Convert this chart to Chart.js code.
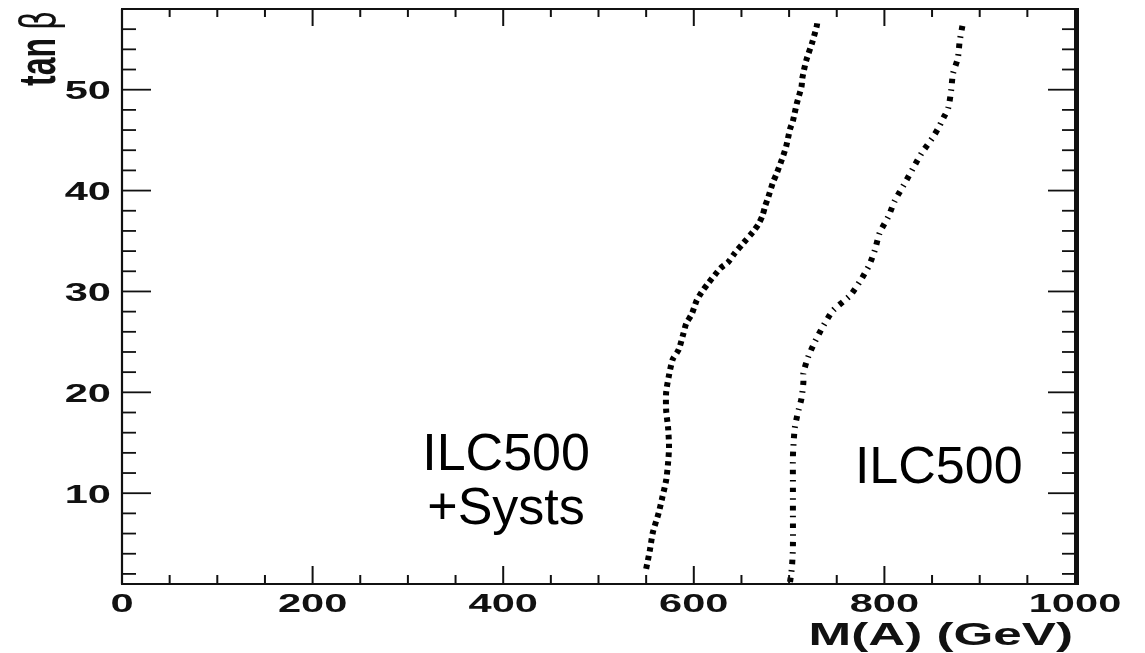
<!DOCTYPE html>
<html>
<head>
<meta charset="utf-8">
<script src="https://cdn.jsdelivr.net/npm/chart.js@4/dist/chart.umd.min.js"></script>
<style>
  html, body { margin: 0; padding: 0; background: #fff; }
  #grafico { display: block; }
</style>
</head>
<body>
<canvas id="grafico" width="1145" height="653"></canvas>
<script>
// ILC500 + systematics contour (left curve)
const systsTanb = [2.5, 4.4, 6.1, 8.0, 9.6, 11.3, 13.0, 14.6, 16.5, 18.2, 20.0, 21.7, 23.3, 24.2, 25.8, 26.8,
  27.8, 29.1, 29.9, 30.8, 32.3, 32.9, 33.8, 34.8, 35.9, 36.7, 37.5, 38.5, 39.3, 40.8, 41.7, 43.5, 44.4,
  46.1, 46.9, 48.6, 50.3, 51.2, 52.9, 54.6, 56.3, 57.0];
const systsMass = [550, 554, 557, 563, 567, 571, 573, 574, 573, 571, 571, 574, 578, 584, 589, 592,
  598, 603, 608, 615, 628, 636, 643, 652, 662, 668, 672, 675, 678, 683, 687, 694, 697,
  701, 704, 708, 713, 714, 718, 724, 729, 730];

// ILC500 contour (right curve)
const ilcTanb = [1.2, 2.7, 4.7, 8.0, 11.3, 13.6, 15.4, 16.5, 17.9, 19.4, 21.0, 21.9, 23.5, 25.0, 26.6,
  28.1, 29.6, 31.1, 32.6, 34.1, 35.8, 37.4, 39.0, 40.5, 42.2, 43.7, 45.3, 46.1, 47.2, 48.2, 49.9,
  51.6, 53.1, 54.8, 56.4];
const ilcMass = [701, 703, 704, 704, 704, 704, 705, 706, 709, 713, 715, 715, 720, 727, 736,
  746, 764, 775, 784, 790, 795, 804, 811, 820, 830, 839, 851, 856, 862, 867, 870,
  872, 877, 879, 882];

const xLabelValues = [0, 200, 400, 600, 800, 1000];
const yLabelValues = [10, 20, 30, 40, 50];
const X_MIN = 0, X_MAX = 1000, X_MINOR = 50;
const Y_MIN = 1, Y_MAX = 58, Y_MINOR = 2;

// the axis text of the original plot is stretched sideways
const STRETCH = 1.6;
const INK = '#111';

const annotations = [
  { text: 'ILC500', x: 403, y: 12.3 },
  { text: '+Systs', x: 403, y: 6.95 },
  { text: 'ILC500', x: 857, y: 11.0 },
];

const pontos = (xs, ys) => xs.map((x, i) => ({ x, y: ys[i] }));

function textoLargo(ctx, txt, x, y, align) {
  ctx.save();
  ctx.translate(x, y);
  ctx.scale(STRETCH, 1);
  ctx.textAlign = align;
  ctx.fillText(txt, 0, 0);
  ctx.restore();
}

function linha(ctx, x1, y1, x2, y2, w) {
  ctx.lineWidth = w;
  ctx.beginPath();
  ctx.moveTo(x1, y1);
  ctx.lineTo(x2, y2);
  ctx.stroke();
}

const framePlugin = {
  id: 'rootFrame',
  afterDraw(chart) {
    const ctx = chart.ctx;
    const xs = chart.scales.x, ys = chart.scales.y;
    const { left, right, top, bottom } = chart.chartArea;
    ctx.save();
    ctx.strokeStyle = INK;
    ctx.fillStyle = INK;
    ctx.lineCap = 'butt';

    // x ticks, inward on bottom and top
    for (let v = X_MIN + X_MINOR; v < X_MAX; v += X_MINOR) {
      const px = xs.getPixelForValue(v);
      const major = xLabelValues.includes(v);
      linha(ctx, px, bottom, px, bottom - (major ? 18 : 9), 2);
      linha(ctx, px, top, px, top + (major ? 17 : 8), 2);
    }
    // y ticks, inward on left and right
    for (let v = Y_MINOR; v < Y_MAX; v += Y_MINOR) {
      const py = ys.getPixelForValue(v);
      const major = yLabelValues.includes(v);
      linha(ctx, left, py, left + (major ? 29 : 14), py, 1.8);
      linha(ctx, right, py, right - (major ? 27 : 13), py, 1.8);
    }

    // frame
    linha(ctx, left - 1, bottom, right, bottom, 2);
    linha(ctx, left - 1, top, right, top, 1.8);
    linha(ctx, left, top, left, bottom, 2.2);
    linha(ctx, right + 1.5, top - 0.9, right + 1.5, bottom + 1, 5);

    // tick labels
    ctx.font = 'bold 26px "Liberation Sans", Arial, sans-serif';
    ctx.textBaseline = 'alphabetic';
    xLabelValues.forEach(v => {
      textoLargo(ctx, String(v), xs.getPixelForValue(v), 612, 'center');
    });
    yLabelValues.forEach(v => {
      textoLargo(ctx, String(v), left - 11, ys.getPixelForValue(v) + 9.5, 'right');
    });

    // axis titles
    ctx.font = 'bold 32px "Liberation Sans", Arial, sans-serif';
    textoLargo(ctx, 'M(A) (GeV)', right - 2, 645, 'right');

    ctx.save();
    ctx.translate(55, 86);
    ctx.scale(STRETCH, 1);
    ctx.rotate(-Math.PI / 2);
    ctx.textAlign = 'left';
    ctx.fillText('tan', 0, 0);
    const w = ctx.measureText('tan').width;
    ctx.font = '30px "DejaVu Sans", sans-serif';
    ctx.fillText('\u03b2', w + 8, 0);
    ctx.restore();

    // curve labels, not stretched
    ctx.fillStyle = '#000';
    ctx.font = '52px "Liberation Sans", Arial, sans-serif';
    ctx.textAlign = 'center';
    annotations.forEach(a => {
      ctx.fillText(a.text, xs.getPixelForValue(a.x), ys.getPixelForValue(a.y));
    });
    ctx.restore();
  },
};

new Chart(document.getElementById('grafico').getContext('2d'), {
  type: 'line',
  data: {
    datasets: [
      {
        label: 'ILC500 +Systs',
        data: pontos(systsMass, systsTanb),
        borderColor: '#000',
        borderWidth: 6,
        borderDash: [4.5, 4.3],
        borderCapStyle: 'butt',
        pointRadius: 0,
        fill: false,
        tension: 0.25,
      },
      {
        label: 'ILC500',
        data: pontos(ilcMass, ilcTanb),
        borderColor: '#000',
        borderWidth: 6,
        borderDash: [4.5, 6, 1.5, 6],
        borderCapStyle: 'butt',
        pointRadius: 0,
        fill: false,
        tension: 0.25,
      },
    ],
  },
  options: {
    responsive: false,
    devicePixelRatio: 1,
    animation: false,
    events: [],
    layout: { padding: { left: 122, right: 70, top: 9, bottom: 69 } },
    plugins: {
      legend: { display: false },
      tooltip: { enabled: false },
    },
    scales: {
      x: { type: 'linear', min: X_MIN, max: X_MAX, display: false },
      y: { type: 'linear', min: Y_MIN, max: Y_MAX, display: false },
    },
  },
  plugins: [framePlugin],
});
</script>
</body>
</html>
